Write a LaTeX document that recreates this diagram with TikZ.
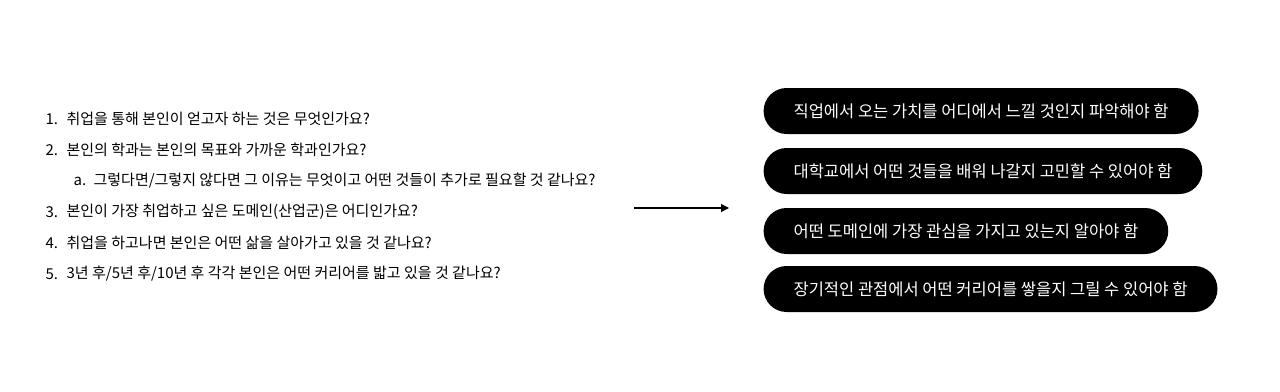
\documentclass[tikz,border=0pt]{standalone}
\usepackage{fontspec}
\setmainfont{Noto Sans CJK KR}
\usetikzlibrary{arrows.meta, positioning}
\tikzset{
  every picture/.style={x=1pt, y=-1pt, line width=1.2pt},
  item/.style={anchor=west, inner sep=0pt, font=\fontsize{15}{18}\selectfont},
  num/.style={item},
  pill/.style={fill=black, text=white, anchor=west, rounded corners=23pt, minimum height=46pt, inner xsep=30pt, font=\fontsize{16.5}{19}\selectfont},
  arrow/.style={-{Triangle[length=8pt, width=8pt]}, draw=black, line width=1.1pt},
}
\begin{document}
\begin{tikzpicture}
  \useasboundingbox (0,0) rectangle (1280,391);
  % question list
  \node[num]  (n1) at (45,119) {1.};
  \node[item] (q1) at (66,119) {취업을 통해 본인이 얻고자 하는 것은 무엇인가요?};
  \node[num]  (n2) at (45,150) {2.};
  \node[item] (q2) at (66,150) {본인의 학과는 본인의 목표와 가까운 학과인가요?};
  \node[num]  (na) at (73,181) {a.};
  \node[item] (qa) at (93,181) {그렇다면/그렇지 않다면 그 이유는 무엇이고 어떤 것들이 추가로 필요할 것 같나요?};
  \node[num]  (n3) at (45,212) {3.};
  \node[item] (q3) at (66,212) {본인이 가장 취업하고 싶은 도메인(산업군)은 어디인가요?};
  \node[num]  (n4) at (45,243) {4.};
  \node[item] (q4) at (66,243) {취업을 하고나면 본인은 어떤 삶을 살아가고 있을 것 같나요?};
  \node[num]  (n5) at (45,274) {5.};
  \node[item] (q5) at (66,274) {3년 후/5년 후/10년 후 각각 본인은 어떤 커리어를 밟고 있을 것 같나요?};
  % answers
  \node[pill] (p1) at (763,111) {직업에서 오는 가치를 어디에서 느낄 것인지 파악해야 함};
  \node[pill] (p2) at (763,171) {대학교에서 어떤 것들을 배워 나갈지 고민할 수 있어야 함};
  \node[pill] (p3) at (763,231) {어떤 도메인에 가장 관심을 가지고 있는지 알아야 함};
  \node[pill] (p4) at (763,289) {장기적인 관점에서 어떤 커리어를 쌓을지 그릴 수 있어야 함};
  \coordinate (from) at (634,208);
  \coordinate (to) at (729,208);
  \draw[arrow] (from) -- (to);
\end{tikzpicture}
\end{document}
